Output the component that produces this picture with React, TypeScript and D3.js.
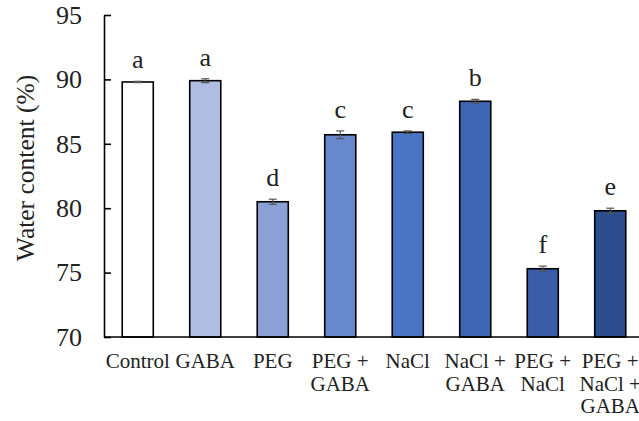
import * as d3 from "d3";
import React, { useRef, useEffect } from 'react'

const categories = ['Control', 'GABA', 'PEG', 'PEG + GABA', 'NaCl', 'NaCl + GABA', 'PEG + NaCl', 'PEG + NaCl + GABA']
const labelLines = [['Control'], ['GABA'], ['PEG'], ['PEG +', 'GABA'], ['NaCl'], ['NaCl +', 'GABA'], ['PEG +', 'NaCl'], ['PEG +', 'NaCl +', 'GABA']]
const values = [89.8, 89.9, 80.5, 85.7, 85.9, 88.3, 75.3, 79.8]
const errors = [0.05, 0.15, 0.2, 0.3, 0.1, 0.15, 0.2, 0.2]
const letters = ['a', 'a', 'd', 'c', 'c', 'b', 'f', 'e']
const colors = ['#ffffff', '#b0bde2', '#8da0d6', '#6788cf', '#4a74c4', '#3e66b5', '#3a5ca9', '#2e4d8e']
const yTicks = [70, 75, 80, 85, 90, 95]

const font = "'Liberation Serif', 'Times New Roman', serif"

const App: React.FC = () => {
  const gy = useRef(null);

  const w = 639, h = 421
  const ml = 104, mt = 15, bottom = 337

  const x = d3.scaleBand(categories, [ml, ml + 8 * 67.5]).paddingInner(0.54).paddingOuter(0.27)
  const y = d3.scaleLinear([70, 95], [bottom, mt])

  useEffect(() => {
    if (!gy.current) return
    const g = d3.select(gy.current as SVGGElement)
    g.call(d3.axisLeft(y).tickValues(yTicks).tickSizeInner(-7).tickSizeOuter(0).tickPadding(22))
    g.select('.domain').attr('stroke', '#000').attr('stroke-width', 1.6)
    g.selectAll('.tick line').attr('stroke', '#000').attr('stroke-width', 1.6)
    g.selectAll('.tick text').attr('font-family', font).attr('font-size', 26).attr('fill', '#222')
  }, [gy, y]);

  return (
    <svg width={w} height={h} style={{ position: 'absolute', left: 0, top: 0, background: '#fff' }}>
      {categories.map((c, i) => {
        const bx = x(c) as number
        const cx = bx + x.bandwidth() / 2
        return (
          <g key={c}>
            <rect x={bx} y={y(values[i])} width={x.bandwidth()} height={bottom - y(values[i])} fill={colors[i]} stroke="#000" strokeWidth={1.6} />
            <line x1={cx} x2={cx} y1={y(values[i] + errors[i])} y2={y(values[i] - errors[i])} stroke="#555" strokeWidth={1.2} />
            <line x1={cx - 4} x2={cx + 4} y1={y(values[i] + errors[i])} y2={y(values[i] + errors[i])} stroke="#555" strokeWidth={1.2} />
            <line x1={cx - 4} x2={cx + 4} y1={y(values[i] - errors[i])} y2={y(values[i] - errors[i])} stroke="#555" strokeWidth={1.2} />
            <text x={cx} y={y(values[i] + errors[i]) - 13} textAnchor="middle" fontFamily={font} fontSize={26} fill="#222">{letters[i]}</text>
            {labelLines[i].map((l, j) => (
              <text key={j} x={cx} y={368 + j * 22.5} textAnchor="middle" fontFamily={font} fontSize={21} fill="#222">{l}</text>
            ))}
          </g>
        )
      })}
      <line x1={ml} x2={w} y1={bottom} y2={bottom} stroke="#000" strokeWidth={1.6} />
      <g ref={gy} transform={`translate(${ml}, 0)`} />
      <text transform={`translate(34, 168) rotate(-90)`} textAnchor="middle" fontFamily={font} fontSize={25.5} fill="#222">Water content (%)</text>
    </svg>
  )
}

export default App
